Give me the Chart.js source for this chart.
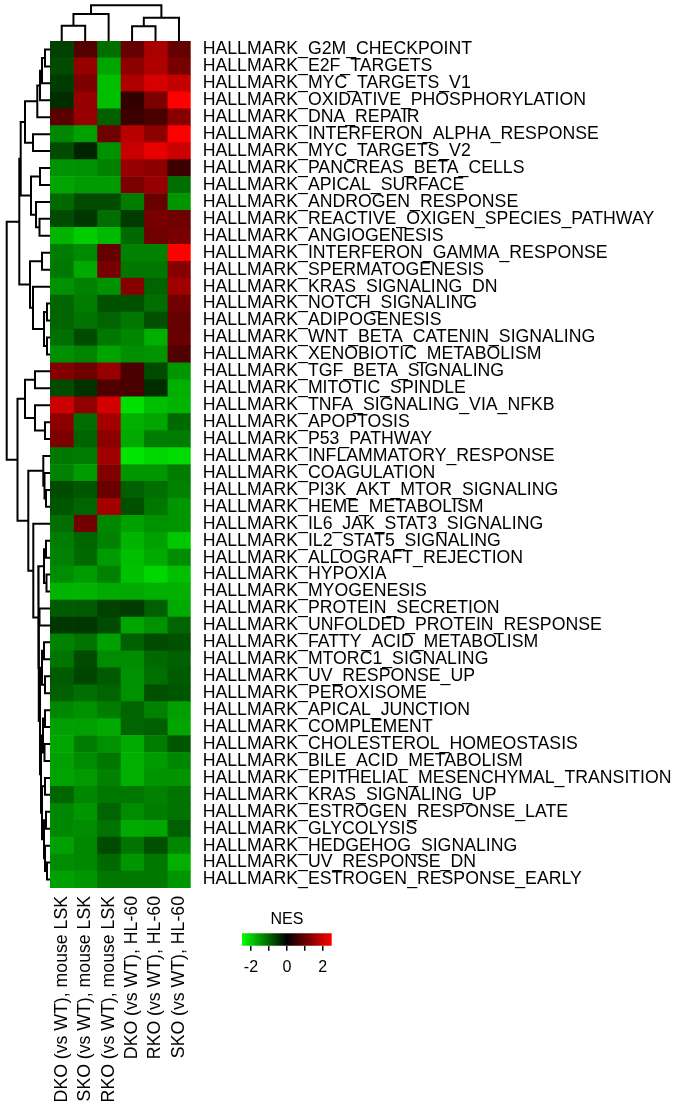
<!DOCTYPE html>
<html>
<head>
<meta charset="utf-8">
<title>Hallmark NES heatmap</title>
<script src="https://cdn.jsdelivr.net/npm/chart.js@4.4.1/dist/chart.umd.min.js"></script>
<style>
  html, body { margin: 0; padding: 0; background: #fff; }
  #wrap { position: relative; width: 677px; height: 1107px; overflow: hidden; }
  #wrap canvas { position: absolute; }
</style>
</head>
<body>
<div id="wrap">
  <canvas id="heat" width="677" height="1107" style="left:0;top:0"></canvas>
  <canvas id="rowTree" width="52" height="1107" style="left:0;top:0"></canvas>
  <canvas id="colTree" width="200" height="45" style="left:0;top:0"></canvas>
  <canvas id="key" width="110" height="75" style="left:232px;top:905px"></canvas>
</div>
<script>
// ---- data ----------------------------------------------------------------
const pathways = [
  'HALLMARK_G2M_CHECKPOINT', 'HALLMARK_E2F_TARGETS', 'HALLMARK_MYC_TARGETS_V1',
  'HALLMARK_OXIDATIVE_PHOSPHORYLATION', 'HALLMARK_DNA_REPAIR',
  'HALLMARK_INTERFERON_ALPHA_RESPONSE', 'HALLMARK_MYC_TARGETS_V2',
  'HALLMARK_PANCREAS_BETA_CELLS', 'HALLMARK_APICAL_SURFACE', 'HALLMARK_ANDROGEN_RESPONSE',
  'HALLMARK_REACTIVE_OXIGEN_SPECIES_PATHWAY', 'HALLMARK_ANGIOGENESIS',
  'HALLMARK_INTERFERON_GAMMA_RESPONSE', 'HALLMARK_SPERMATOGENESIS', 'HALLMARK_KRAS_SIGNALING_DN',
  'HALLMARK_NOTCH_SIGNALING', 'HALLMARK_ADIPOGENESIS', 'HALLMARK_WNT_BETA_CATENIN_SIGNALING',
  'HALLMARK_XENOBIOTIC_METABOLISM', 'HALLMARK_TGF_BETA_SIGNALING', 'HALLMARK_MITOTIC_SPINDLE',
  'HALLMARK_TNFA_SIGNALING_VIA_NFKB', 'HALLMARK_APOPTOSIS', 'HALLMARK_P53_PATHWAY',
  'HALLMARK_INFLAMMATORY_RESPONSE', 'HALLMARK_COAGULATION', 'HALLMARK_PI3K_AKT_MTOR_SIGNALING',
  'HALLMARK_HEME_METABOLISM', 'HALLMARK_IL6_JAK_STAT3_SIGNALING', 'HALLMARK_IL2_STAT5_SIGNALING',
  'HALLMARK_ALLOGRAFT_REJECTION', 'HALLMARK_HYPOXIA', 'HALLMARK_MYOGENESIS',
  'HALLMARK_PROTEIN_SECRETION', 'HALLMARK_UNFOLDED_PROTEIN_RESPONSE',
  'HALLMARK_FATTY_ACID_METABOLISM', 'HALLMARK_MTORC1_SIGNALING', 'HALLMARK_UV_RESPONSE_UP',
  'HALLMARK_PEROXISOME', 'HALLMARK_APICAL_JUNCTION', 'HALLMARK_COMPLEMENT',
  'HALLMARK_CHOLESTEROL_HOMEOSTASIS', 'HALLMARK_BILE_ACID_METABOLISM',
  'HALLMARK_EPITHELIAL_MESENCHYMAL_TRANSITION', 'HALLMARK_KRAS_SIGNALING_UP',
  'HALLMARK_ESTROGEN_RESPONSE_LATE', 'HALLMARK_GLYCOLYSIS', 'HALLMARK_HEDGEHOG_SIGNALING',
  'HALLMARK_UV_RESPONSE_DN', 'HALLMARK_ESTROGEN_RESPONSE_EARLY'
];

const comparisons = [
  'DKO (vs WT), mouse LSK', 'SKO (vs WT), mouse LSK', 'RKO (vs WT), mouse LSK',
  'DKO (vs WT), HL-60', 'RKO (vs WT), HL-60', 'SKO (vs WT), HL-60'
];

// normalized enrichment scores, one array per comparison (rows in pathway order)
const dkoMouse = [
  -0.63, -0.74, -0.59, -0.44, 0.88, -1.32, -0.74, -1.42, -1.62, -1.03,
  -0.74, -1.76, -1.22, -1.18, -1.42, -0.98, -0.98, -1.08, -1.40, 1.27,
  -0.74, 2.00, 1.37, 1.23, -1.18, -1.27, -0.74, -0.83, -1.08, -1.23,
  -1.27, -1.37, -1.76, -0.88, -0.54, -1.27, -1.13, -0.88, -0.93, -1.32,
  -1.57, -1.62, -1.57, -1.59, -0.98, -1.32, -1.32, -1.57, -1.37, -1.57
];
const skoMouse = [
  0.83, 1.47, 1.23, 1.47, 1.47, -1.57, -0.34, -1.42, -1.52, -0.74,
  -0.54, -2.00, -1.35, -1.67, -1.27, -1.23, -1.13, -0.74, -1.30, 1.08,
  -0.49, 1.42, -1.08, -0.98, -1.23, -1.52, -0.83, -0.98, 1.13, -0.98,
  -1.03, -1.52, -1.76, -0.88, -0.54, -1.13, -0.74, -0.69, -1.08, -1.42,
  -1.57, -1.23, -1.37, -1.50, -1.32, -1.47, -1.37, -1.32, -1.32, -1.47
];
const rkoMouse = [
  -1.08, -1.62, -1.86, -1.86, -0.93, 1.08, -1.42, -1.27, -1.52, -0.74,
  -1.08, -1.81, 0.98, 1.18, -1.42, -0.78, -0.98, -1.18, -1.60, 1.47,
  0.78, 2.06, 1.62, 1.37, 1.57, 1.27, 1.03, 1.62, -1.32, -1.27,
  -1.52, -1.27, -1.67, -0.64, -0.74, -1.57, -1.37, -0.88, -0.98, -1.23,
  -1.67, -1.42, -1.18, -1.27, -1.18, -0.98, -1.13, -0.74, -1.03, -1.18
];
const dkoHL60 = [
  0.98, 1.37, 1.72, 0.49, 0.59, 1.81, 1.96, 1.47, 1.23, -1.23,
  -0.59, -1.03, -1.27, -1.18, 1.32, -0.78, -1.18, -1.32, -1.40, 0.74,
  0.74, -2.20, -1.72, -1.67, -2.25, -1.47, -0.93, -0.78, -1.57, -1.76,
  -1.86, -1.91, -1.67, -0.59, -1.62, -0.93, -1.37, -1.42, -1.42, -0.98,
  -0.98, -1.67, -1.72, -1.72, -1.18, -1.37, -1.67, -1.13, -1.47, -1.18
];
const rkoHL60 = [
  1.67, 1.72, 2.10, 1.23, 0.74, 1.37, 2.25, 1.37, 1.47, 1.03,
  1.18, 1.08, -1.27, -1.18, -0.98, -1.08, -0.78, -1.72, -1.45, -0.74,
  -0.44, -1.86, -1.62, -1.23, -2.10, -1.47, -1.08, -1.18, -1.42, -1.57,
  -1.67, -2.10, -1.72, -0.93, -1.42, -0.74, -1.03, -1.10, -0.78, -1.27,
  -0.93, -1.23, -1.52, -1.45, -1.27, -1.23, -1.62, -0.78, -1.18, -1.18
];
const skoHL60 = [
  0.98, 1.18, 1.91, 2.50, 1.32, 2.50, 2.00, 0.59, -1.08, -1.47,
  1.08, 1.18, 2.50, 1.32, 1.57, 1.13, 0.98, 1.03, 0.78, -1.47,
  -1.72, -1.76, -1.03, -1.23, -2.16, -1.23, -1.27, -1.47, -1.47, -1.96,
  -1.37, -1.86, -1.72, -1.67, -0.98, -0.78, -0.93, -0.88, -0.83, -1.57,
  -1.62, -0.83, -1.32, -1.45, -1.13, -1.13, -0.93, -1.32, -1.72, -1.47
];

// row clustering: [childA, childB, height]; negative = pathway (1-based), positive = earlier merge
const rowMerges = [
  [-1, -2, 5], [1, -3, 8], [2, -4, 10], [3, -5, 12.7], [-6, -7, 17],
  [4, 5, 25], [-8, -9, 10], [-11, -12, 10.5], [-10, 8, 14], [7, 9, 19],
  [6, 10, 29.3], [-13, -14, 8], [-16, -17, 3], [-18, -19, 3], [13, 14, 6],
  [-15, 15, 17], [12, 16, 20], [11, 17, 30.7], [-20, -21, 15], [-23, -24, 5],
  [-22, 20, 15], [19, 21, 25], [-27, -28, 4], [-26, 23, 5.5], [-25, 24, 6.7],
  [-30, -31, 4], [-32, -33, 3.5], [26, 27, 6], [-34, -35, 10.5], [-36, -37, 6],
  [-38, -39, 5], [30, 31, 8], [-40, -41, 5], [-42, -43, 5.5], [33, 34, 7],
  [-44, -45, 5], [-46, -47, 4], [-49, -50, 3], [-48, 38, 5], [37, 39, 6],
  [36, 40, 8], [35, 41, 9], [32, 42, 10], [29, 43, 11.2], [28, 44, 11.7],
  [-29, 45, 16.7], [25, 46, 21.7], [22, 47, 32.5], [18, 48, 43.3]
];

// column clustering, same encoding (negative = comparison index)
const colMerges = [
  [-1, -2, 15.3], [1, -3, 27], [-4, -5, 14.7], [3, -6, 23.3], [2, 4, 35.7]
];

const nesTicks = [-2, -1, 0, 1, 2];
const nesLimit = 2.5;

// ---- helpers -------------------------------------------------------------
const FONT = '"Liberation Sans", Arial, Helvetica, sans-serif';
Chart.defaults.font.family = FONT;
Chart.defaults.color = '#000';
const LABEL_SIZE = 17.7;

// green - black - red ramp
function nesColor(v) {
  const t = Math.min(1, Math.abs(v) / nesLimit);
  const c = Math.round(t * 255);
  return v < 0 ? `rgb(0,${c},0)` : `rgb(${c},0,0)`;
}

// turn a merge list into one elbow polyline per merge: [leafPos, height] pairs
function treeSegments(merges) {
  const nodes = [];
  const at = id => (id < 0 ? { p: -id - 0.5, h: 0 } : nodes[id - 1]);
  return merges.map(([a, b, h], k) => {
    const A = at(a), B = at(b);
    nodes[k] = { p: (A.p + B.p) / 2, h };
    return [[A.p, A.h], [A.p, h], [B.p, h], [B.p, B.h]];
  });
}

const lineStyle = {
  showLine: true, borderColor: '#000', borderWidth: 2, pointRadius: 0,
  fill: false, clip: false, tension: 0
};

// ---- heatmap -------------------------------------------------------------
const series = [dkoMouse, skoMouse, rkoMouse, dkoHL60, rkoHL60, skoHL60];

new Chart(document.getElementById('heat'), {
  type: 'bar',
  data: {
    labels: pathways,
    datasets: series.map((vals, j) => ({
      label: comparisons[j],
      data: vals.map(() => 1),
      backgroundColor: vals.map(nesColor),
      borderWidth: 0,
      barPercentage: 1,
      categoryPercentage: 1
    }))
  },
  options: {
    indexAxis: 'y',
    responsive: false,
    animation: false,
    devicePixelRatio: 1,
    layout: { padding: { left: 50, top: 41, right: 0, bottom: 0 } },
    plugins: { legend: { display: false }, tooltip: { enabled: false } },
    scales: {
      x: {
        type: 'linear', stacked: true, min: 0, max: comparisons.length, position: 'bottom',
        afterFit(s) { s.height = 1107 - 888; },
        afterBuildTicks(s) { s.ticks = comparisons.map((_, i) => ({ value: i + 0.5 })); },
        ticks: {
          autoSkip: false, minRotation: 90, maxRotation: 90, padding: 8,
          font: { size: LABEL_SIZE }, color: '#000',
          callback: (v, i) => comparisons[i]
        },
        grid: { display: false, drawTicks: false },
        border: { display: false }
      },
      y: {
        stacked: true, position: 'right',
        afterFit(s) { s.width = 677 - 190.7; },
        ticks: { autoSkip: false, padding: 12, font: { size: LABEL_SIZE }, color: '#000' },
        grid: { display: false, drawTicks: false },
        border: { display: false }
      }
    }
  }
});

// ---- row dendrogram ------------------------------------------------------
new Chart(document.getElementById('rowTree'), {
  type: 'scatter',
  data: {
    datasets: treeSegments(rowMerges).map(seg => ({
      ...lineStyle,
      data: seg.map(([p, h]) => ({ x: h, y: p }))
    }))
  },
  options: {
    responsive: false, animation: false, devicePixelRatio: 1,
    layout: { padding: { left: 5, right: 2, top: 41, bottom: 1107 - 888 } },
    plugins: { legend: { display: false }, tooltip: { enabled: false } },
    scales: {
      x: { type: 'linear', min: 0, max: 45, reverse: true, display: false },
      y: { type: 'linear', min: 0, max: pathways.length, reverse: true, display: false }
    }
  }
});

// ---- column dendrogram ---------------------------------------------------
new Chart(document.getElementById('colTree'), {
  type: 'scatter',
  data: {
    datasets: treeSegments(colMerges).map(seg => ({
      ...lineStyle,
      data: seg.map(([p, h]) => ({ x: p, y: h }))
    }))
  },
  options: {
    responsive: false, animation: false, devicePixelRatio: 1,
    layout: { padding: { left: 50, right: 200 - 190.7, top: 5, bottom: 4 } },
    plugins: { legend: { display: false }, tooltip: { enabled: false } },
    scales: {
      x: { type: 'linear', min: 0, max: comparisons.length, display: false },
      y: { type: 'linear', min: 0, max: 36, display: false }
    }
  }
});

// ---- colour key ----------------------------------------------------------
new Chart(document.getElementById('key'), {
  type: 'bar',
  data: {
    labels: ['NES'],
    datasets: [{
      data: [[-nesLimit, nesLimit]],
      backgroundColor(ctx) {
        const a = ctx.chart.chartArea;
        if (!a) return '#000';
        const g = ctx.chart.ctx.createLinearGradient(a.left, 0, a.right, 0);
        g.addColorStop(0, nesColor(-nesLimit));
        g.addColorStop(0.5, nesColor(0));
        g.addColorStop(1, nesColor(nesLimit));
        return g;
      },
      borderWidth: 0, barPercentage: 1, categoryPercentage: 1
    }]
  },
  options: {
    indexAxis: 'y', responsive: false, animation: false, devicePixelRatio: 1,
    layout: { padding: { left: 10, right: 10.3, top: 5, bottom: 3.3 } },
    plugins: {
      legend: { display: false }, tooltip: { enabled: false },
      title: {
        display: true, text: 'NES', color: '#000',
        font: { size: 16, weight: 'normal' }, padding: { top: 0, bottom: 4 }
      }
    },
    scales: {
      x: {
        min: -nesLimit, max: nesLimit,
        afterBuildTicks(s) { s.ticks = nesTicks.map(v => ({ value: v })); },
        afterFit(s) { s.height = 31; },
        ticks: {
          autoSkip: false, maxRotation: 0, padding: 7, font: { size: 16 }, color: '#000',
          callback: v => (v % 2 === 0 ? String(v) : '')
        },
        grid: { drawOnChartArea: false, drawTicks: true, tickLength: 5, color: '#000', lineWidth: 1.5 },
        border: { display: false }
      },
      y: { display: false }
    }
  }
});
</script>
</body>
</html>
